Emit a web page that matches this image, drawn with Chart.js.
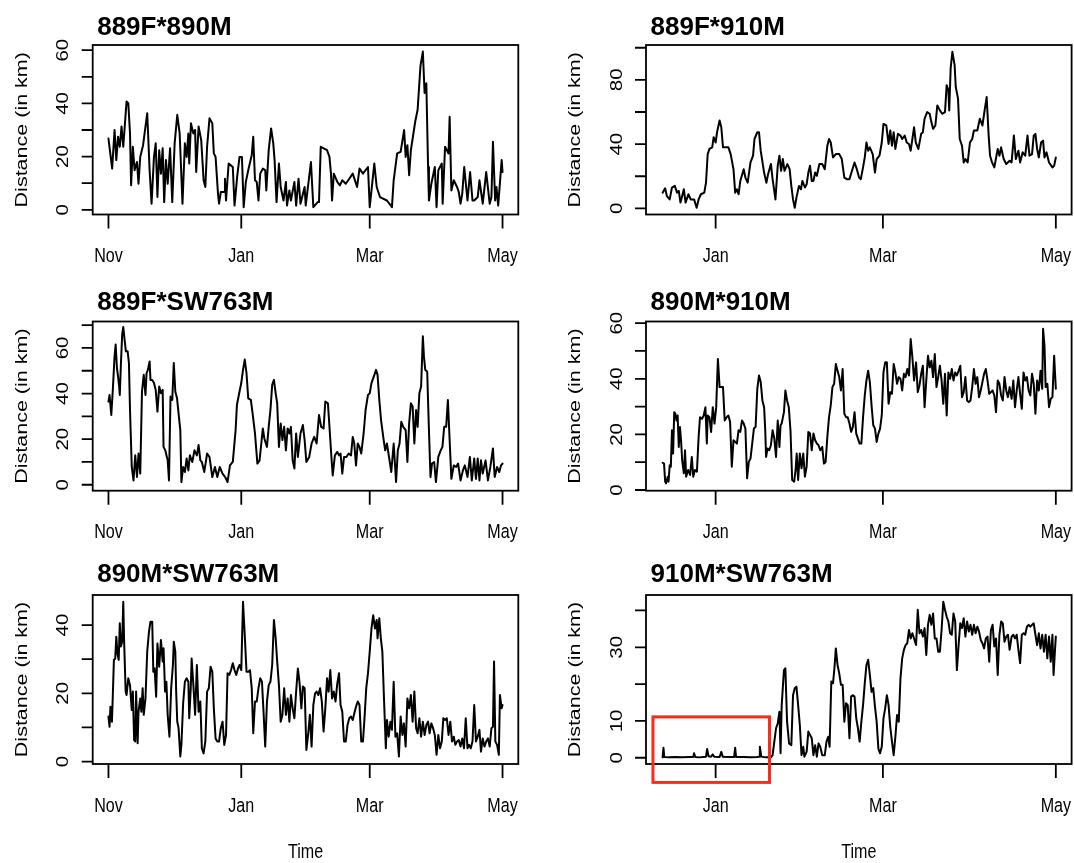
<!DOCTYPE html>
<html>
<head>
<meta charset="utf-8">
<title>Pairwise distances</title>
<script src="https://cdn.jsdelivr.net/npm/chart.js@4.4.1/dist/chart.umd.min.js"></script>
<style>
  html, body { margin: 0; padding: 0; background: #fff; }
  #wrap { position: relative; width: 1074px; height: 863px; overflow: hidden; }
  #wrap canvas { position: absolute; left: 0; top: 0; }
</style>
</head>
<body>
<div id="wrap"></div>
<script>
// x values are days since 1 Nov (1 Jan = 61, 1 Mar = 120, 1 May = 181)
const monthDays = [0, 61, 120, 181];
const monthNames = ['Nov', 'Jan', 'Mar', 'May'];

// 889F*890M
const days1 = [0,1.7,2.8,3.6,4.4,5.2,6.0,6.8,8.3,9.1,9.9,10.4,11.2,12.0,13.1,13.8,14.6,15.9,16.7,17.8,18.2,18.9,19.8,20.9,21.7,22.5,23.3,24.1,24.9,25.6,26.4,27.2,28.3,29.3,30.4,31.6,32.7,34.0,35.1,35.9,36.7,37.1,37.9,39.0,39.8,40.3,41.4,42.6,43.7,44.5,45.3,46.4,47.7,48.4,49.2,50.3,50.8,51.6,53.2,53.5,54.0,55.2,57.1,57.9,58.7,59.1,60.2,61.3,62.1,63.1,64.2,65.8,66.5,67.3,68.1,68.9,69.7,70.9,72.0,72.5,73.6,74.7,75.7,76.3,77.2,78.3,79.1,80.4,81.5,82.0,83.1,83.8,85.4,86.2,87.3,88.2,90.1,90.6,93.0,94.1,96.1,96.7,97.5,100.4,101.5,102.2,102.7,103.5,105.1,106.3,107.4,109.0,110.6,112.2,114.2,115.3,116.9,119.2,120.0,122.1,123.2,124.7,127.9,130.2,131.0,132.6,134.2,135.8,136.5,137.3,138.1,138.9,140.9,142.0,143.3,144.4,145.2,146.0,146.8,147.2,148.3,149.9,150.7,151.5,153.1,153.5,154.6,156.2,156.7,157.5,158.6,160.1,160.9,161.7,162.5,163.4,164.9,166.1,167.2,168.0,169.6,170.4,171.9,173.5,175.1,175.9,176.6,177.6,178.2,179.0,180.6,181.0];
const dist1 = [26.8,15.5,30.0,18.7,27.5,23.7,31.3,23.7,40.7,40.1,28.7,9.2,23.7,14.9,18.0,9.8,19.9,24.3,29.4,36.3,28.7,14.9,2.3,19.9,25.0,4.8,22.4,13.6,23.1,2.9,18.7,9.8,23.1,2.9,25.0,35.7,28.7,2.3,25.0,19.9,28.7,17.4,32.5,28.7,30.0,14.2,31.3,26.2,11.1,8.6,23.7,34.4,32.5,21.2,19.9,6.1,2.3,6.7,6.7,11.7,3.5,17.4,16.1,1.6,8.6,12.4,19.9,19.9,1.0,10.5,14.9,20.5,27.5,11.1,10.5,3.5,13.6,15.5,14.9,7.3,22.4,30.6,25.0,18.7,2.9,17.4,8.6,3.5,10.5,1.6,7.3,3.5,10.5,1.6,11.7,2.3,8.6,1.6,18.0,1.0,2.9,2.9,23.7,22.4,19.9,13.6,3.5,13.6,10.5,9.2,11.1,9.8,11.7,13.6,8.6,15.5,13.6,16.1,1.0,17.4,8.6,4.8,3.5,1.0,11.1,21.2,21.8,30.0,19.9,24.3,13.0,22.4,33.2,37.6,54.0,59.5,43.9,47.6,16.1,3.5,9.8,16.1,1.0,14.9,17.4,2.3,23.7,21.2,35.0,7.3,11.1,8.6,6.7,2.3,6.1,16.1,3.5,14.2,3.5,3.5,4.8,11.1,2.3,14.2,2.3,4.8,25.6,3.5,8.6,1.6,18.7,14.2];

// 889F*910M
const days2 = [42.3,43.2,43.8,44.8,45.6,46.6,47.4,48.0,48.6,49.2,49.8,50.4,51.4,52.2,53.4,54.3,55.0,55.8,57.0,57.6,58.2,58.8,59.8,60.3,61.0,61.5,62.4,63.0,63.6,65.5,66.3,67.3,67.9,68.5,69.1,69.7,70.9,71.5,72.3,73.3,74.2,74.7,75.7,76.3,76.9,78.1,78.9,79.5,80.5,81.1,82.1,82.9,83.5,84.1,84.7,85.3,86.3,87.1,87.7,88.3,88.9,89.5,90.4,91.1,91.6,92.5,93.1,93.7,94.3,94.9,95.5,96.1,96.7,97.6,98.6,99.5,100.4,101.0,101.6,102.4,103.4,104.6,105.5,106.4,107.3,108.2,109.1,110.0,110.8,111.6,112.2,113.0,113.6,114.2,114.8,115.4,116.4,117.2,117.8,118.8,119.6,120.2,121.2,122.0,122.6,123.2,123.8,124.4,125.3,126.2,126.8,127.7,128.4,129.2,129.8,131.0,131.6,132.5,133.5,134.1,134.7,135.6,136.5,137.1,137.7,138.5,139.2,140.1,140.9,141.9,142.5,143.1,143.4,143.9,144.5,145.3,145.7,146.5,147.1,147.9,148.5,149.1,149.9,150.7,151.5,152.1,153.3,154.2,155.1,155.7,156.6,157.3,157.8,158.5,159.3,160.5,161.1,161.7,162.6,163.5,164.7,165.4,166.2,166.9,167.8,168.4,169.3,170.2,171.0,171.7,172.6,173.2,173.8,174.4,175.0,175.8,176.5,177.0,177.7,178.6,179.8,180.4,181.0];
const dist2 = [9.8,12.5,7.7,5.6,13,14,9.8,10.9,3.6,7.7,11.9,3.6,8.8,5.6,5.6,0.4,5.6,8.8,9.8,16,33.8,37,38,44.3,41,47.4,54.7,50.5,38,38,33.8,24.4,9.8,11.9,8.8,17.1,24.4,19.2,16,28.6,32.8,43.2,47.4,47.4,35.9,22.3,16,21.3,27.6,18.2,5.6,26.5,32.8,23.4,30.7,23.4,27.6,24.4,14,5.6,0.4,6.7,14,11.9,17.1,13,15,22.3,26.5,17.1,17.1,22.3,20.3,27.6,27.6,24.4,39,43.2,41,31.7,33.8,33.8,30.7,19.2,18.2,18.2,23.4,28.6,24.4,19.2,18.2,25.5,31.7,41,35.9,38,33.8,22.3,30.7,32.8,41,52.6,51.6,40.1,48.5,39,47.4,37,46.4,45.3,43.2,45.3,41,40.1,35.9,50.5,41,37,46.4,47.4,55.8,59.9,58.9,53.7,49.5,51.6,64.1,61,58.9,59.9,76.7,73.5,61,87.1,97.5,89.2,75.6,68.3,43.2,39,28.6,30.7,28.6,41,43.2,48.5,48.5,55.8,51.6,58.9,69.3,45.3,32.8,28.6,25.5,37,32.8,38,30.7,27.6,29.7,28.6,45.3,30.7,35.9,28.6,34.9,32.8,45.3,32.8,33.8,45.3,46.4,37,31.7,41,42.2,31.7,34.9,28.6,25.5,26.5,31.7];

// 889F*SW763M
const days3 = [0,0.5,1.3,2.0,2.8,3.3,3.9,4.4,4.9,5.2,5.7,6.3,6.8,7.4,8.0,8.8,9.4,9.9,10.7,11.5,12.3,13.1,13.8,14.6,15.4,16.2,17.0,17.5,18.1,18.9,19.3,20.1,20.9,21.7,22.5,23.3,24.1,24.9,25.3,26.1,27.2,27.8,28.5,29.3,30.0,30.7,31.5,32.2,33.0,33.5,34.3,35.1,35.9,36.7,37.4,38.5,39.5,40.6,41.4,42.2,42.9,44.0,45.3,46.4,47.7,48.9,50.0,51.1,52.4,53.6,54.7,55.8,57.1,58.4,59.0,60.2,61.0,61.8,62.6,63.4,64.2,65.4,66.2,67.3,68.4,69.4,70.2,70.9,71.6,72.8,73.6,74.4,75.2,76.0,76.8,77.5,78.3,79.1,79.9,80.7,81.5,82.3,83.1,83.8,84.6,85.4,86.2,87.0,88.2,89.3,90.1,90.9,92.2,93.3,94.5,95.6,96.7,97.7,98.8,99.6,100.8,101.6,102.4,103.0,104.0,105.1,105.9,106.6,107.4,108.2,109.3,110.3,111.4,112.2,112.9,113.7,114.5,115.3,116.1,117.2,118.1,119.2,120.0,120.8,121.9,122.9,123.6,124.4,125.2,126.3,127.1,127.9,129.1,129.9,131.0,132.1,132.9,133.7,134.5,135.4,136.5,137.3,138.1,138.9,139.7,140.5,141.3,142.0,142.8,143.6,144.4,144.9,145.5,146.4,147.1,147.9,148.6,149.6,150.4,151.5,152.6,153.4,154.2,155.1,155.9,156.7,157.5,158.6,159.7,160.6,161.7,162.8,163.7,164.9,166.0,166.9,168.0,168.8,169.6,170.4,171.1,171.9,173.2,174.3,175.4,176.6,177.4,178.5,179.5,180.3,181.0];
const dist3 = [36.5,39.4,30.6,41.6,56.3,61.5,51.2,47.5,43.1,39.4,52.6,65.9,69.2,63.7,58.5,58.5,53.4,32.8,7.8,1.9,12.9,3.4,13.7,4.9,40.9,48.2,39.4,49.0,50.4,54.1,46.0,46.0,44.6,41.6,32.1,43.1,40.1,41.6,16.6,15.1,10.7,1.9,38.7,37.2,53.4,40.9,37.9,31.3,24.0,1.2,7.8,5.6,11.5,6.3,12.9,10.0,15.1,12.9,17.4,10.7,10.0,5.6,13.7,12.2,3.4,7.8,3.4,7.8,4.9,3.4,1.2,8.5,10.0,24.0,35.0,40.9,44.6,50.4,54.9,49.0,37.9,37.2,31.3,22.5,9.3,10.7,18.1,24.7,20.3,16.6,25.4,32.8,43.8,46.0,40.1,35.7,16.6,26.9,19.6,25.4,15.1,24.7,22.5,25.4,10.7,7.1,22.5,12.2,22.5,26.2,19.6,10.0,12.2,18.1,21.0,18.1,30.6,25.4,24.7,36.5,35.7,24.0,12.2,4.1,12.9,14.4,12.9,13.7,4.9,12.2,12.2,13.7,12.9,21.0,18.1,8.5,18.1,16.6,13.7,22.5,32.8,39.4,40.1,44.6,47.5,50.4,48.2,37.2,28.4,20.3,15.1,18.1,10.7,5.6,18.1,1.2,15.1,18.1,27.6,25.4,24.0,10.0,26.9,35.7,34.3,18.1,32.8,25.4,40.1,43.1,65.1,56.3,50.4,49.6,26.9,3.4,9.3,10.0,1.2,12.2,15.1,16.6,25.4,25.4,37.2,19.6,2.6,8.5,7.8,9.3,1.9,6.3,8.5,3.4,12.2,1.9,11.5,2.6,11.5,1.9,10.7,4.9,10.7,1.9,7.8,15.9,3.4,7.8,5.6,8.5,9.3];

// 890M*910M
const days4 = [42.3,42.8,43.2,43.5,44.1,44.4,44.8,45.2,45.6,46.0,46.4,46.8,47.2,47.6,48.0,48.4,48.8,49.2,49.8,50.2,50.6,51.3,52.0,52.6,53.1,53.7,54.4,55.0,55.5,56.2,56.8,57.4,57.9,58.2,58.8,59.4,60.0,60.6,61.2,61.8,62.4,63.0,63.6,64.2,64.9,65.5,66.1,66.7,67.3,67.9,68.5,69.1,69.7,70.3,70.9,71.5,72.1,72.7,73.3,73.9,74.5,75.1,75.7,76.3,76.9,77.5,78.1,78.5,78.8,79.3,79.9,80.5,81.1,81.7,82.3,82.9,83.5,83.9,84.3,85.1,85.6,86.2,86.8,87.4,88.0,88.7,89.2,89.6,90.1,90.7,91.3,91.9,92.5,93.1,93.7,94.3,94.9,95.5,96.1,96.7,97.3,97.9,98.6,99.2,99.8,100.4,101.0,101.6,102.2,102.8,103.4,104.0,104.6,105.2,105.8,106.4,107.0,107.6,108.2,108.8,109.4,110.0,110.6,111.2,111.8,112.4,113.0,113.6,114.2,114.8,115.4,116.0,116.6,117.2,117.8,118.4,119.0,119.6,120.2,120.8,121.4,122.0,122.6,123.2,123.8,124.4,125.0,125.6,126.2,126.8,127.4,128.0,128.6,129.2,129.8,130.4,131.0,131.7,132.3,132.9,133.5,134.1,134.7,135.3,135.9,136.5,137.1,137.7,138.3,138.9,139.5,140.1,140.7,141.3,141.9,142.5,143.1,143.7,144.3,144.9,145.5,146.1,146.7,147.3,147.9,148.5,149.1,149.7,150.3,150.9,151.5,152.1,152.7,153.3,153.9,154.5,155.1,155.7,156.3,156.9,157.5,158.1,158.7,159.3,159.9,160.5,161.1,161.7,162.3,162.9,163.5,164.1,164.7,165.4,166.0,166.6,167.2,167.8,168.4,169.0,169.6,170.2,170.8,171.4,172.0,172.6,173.2,173.8,174.4,175.0,175.6,176.2,176.5,177.0,177.4,178.0,178.6,179.2,179.8,180.4,181.0];
const dist4 = [9.8,9.5,3.0,2.4,4.8,3.0,8.9,8.4,21.5,13.1,28.0,27.4,25.0,26.8,15.5,22.7,17.9,10.7,6.0,14.3,4.8,7.2,5.4,11.9,4.8,7.2,6.6,19.1,26.2,25.6,26.8,29.8,16.7,26.8,26.2,20.9,29.8,23.9,29.8,47.1,37.0,37.0,37.0,25.0,26.2,26.8,24.5,8.4,17.9,17.3,16.7,21.5,20.9,25.0,23.9,22.1,4.2,10.1,11.3,16.7,22.1,22.7,36.4,41.2,38.8,32.2,29.8,21.5,11.9,14.9,14.3,16.1,21.5,18.5,11.9,25.0,15.5,23.3,23.9,28.0,35.8,32.2,29.8,21.5,3.6,3.0,7.2,13.1,3.6,13.1,7.8,13.1,4.8,8.4,20.9,20.3,14.3,20.3,17.9,16.7,16.1,14.3,15.5,9.5,10.1,19.1,26.2,30.4,37.0,38.2,45.3,42.9,40.6,35.8,43.5,27.4,26.2,26.2,23.9,20.9,22.7,28.0,20.3,18.5,16.7,16.7,26.2,34.0,39.4,42.9,38.8,30.4,23.3,22.1,17.3,20.3,22.1,26.8,42.3,45.9,45.9,31.0,35.2,34.6,45.3,42.3,38.2,40.6,40.0,35.8,41.8,40.6,43.5,41.2,54.3,47.7,39.4,45.9,35.2,37.6,41.8,44.7,29.8,39.4,48.3,44.1,46.5,40.6,48.9,37.0,40.6,44.7,39.4,31.0,41.8,26.8,42.3,40.0,43.5,39.4,42.3,41.2,42.9,44.7,33.4,35.2,40.6,32.2,31.6,32.2,37.0,43.5,38.2,40.6,33.4,35.8,38.8,41.8,43.5,39.4,34.6,35.2,35.8,34.0,28.0,39.4,38.2,34.0,32.2,40.6,35.8,33.4,37.0,32.8,39.4,29.8,35.8,40.6,34.6,29.2,42.3,39.4,40.6,35.8,34.0,41.8,38.2,27.4,39.4,35.8,42.9,36.4,58.0,51.9,37.0,38.2,29.8,32.8,33.4,48.3,36.4];

// 890M*SW763M
const days5 = [0,0.5,0.9,1.6,2.0,2.5,3.1,3.6,4.1,4.7,5.2,5.7,6.3,6.8,7.2,7.9,8.3,9.1,9.9,10.7,11.2,11.8,12.3,12.7,13.4,13.8,14.6,15.1,15.7,16.2,17.0,17.8,18.6,19.3,20.1,20.6,21.2,21.9,22.5,23.3,24.1,24.9,25.3,26.0,26.6,27.2,28.0,28.8,29.6,30.0,30.7,31.1,31.6,32.2,33.0,33.5,34.3,35.1,35.9,36.7,37.1,37.8,38.2,39.0,39.8,40.6,41.4,42.2,42.9,43.7,44.5,45.3,46.1,46.9,47.7,48.4,49.2,50.0,50.8,51.6,52.4,53.2,54.0,54.7,55.5,56.3,57.1,57.9,58.7,59.5,60.2,61.0,61.8,62.6,63.4,64.2,65.0,65.8,66.5,67.3,68.1,68.9,69.7,70.5,71.3,72.0,72.8,73.6,74.4,75.2,76.0,76.8,77.5,78.3,79.1,79.9,80.7,81.5,82.3,83.1,83.8,84.6,85.4,86.2,87.0,87.8,88.6,89.3,90.1,90.9,91.7,92.5,93.3,94.1,94.9,95.6,96.4,97.2,98.0,98.8,99.6,100.4,101.1,101.9,102.7,103.5,104.3,105.1,105.9,106.6,107.4,108.2,109.0,109.8,110.6,111.4,112.2,112.9,113.7,114.5,115.3,116.1,116.9,117.7,118.4,119.2,120.0,120.8,121.6,122.4,123.2,123.6,124.4,125.1,125.8,126.6,127.4,127.9,128.7,129.5,130.2,131.0,131.8,132.6,133.4,134.2,135.0,135.7,136.5,137.3,138.1,138.9,139.7,140.5,141.3,142.0,142.8,143.6,144.4,145.2,146.0,146.8,147.5,148.3,149.1,149.9,150.7,151.5,152.3,153.1,153.8,154.6,155.4,156.2,157.0,157.8,158.6,159.3,160.1,160.9,161.7,162.5,163.3,164.1,164.9,165.6,166.4,167.2,168.0,168.8,169.6,170.4,171.1,171.9,172.7,173.5,174.3,175.1,175.9,176.6,177.1,177.7,178.5,179.3,179.8,180.6,181.0];
const dist5 = [13.2,10.2,16.1,11.7,19.5,29.8,30.2,36.6,31.7,29.8,40.5,33.7,35.1,46.8,35.1,20.5,19.5,24.4,22.4,15.1,20.5,6.3,5.9,20.5,5.4,14.6,18.5,14.6,21.5,13.7,18.5,32.2,38.0,41.0,41.0,26.3,27.3,19.0,34.6,27.8,35.6,29.3,33.2,20.5,23.4,13.7,7.3,21.5,28.3,35.1,32.2,20.5,11.7,9.8,1.5,4.9,17.1,23.4,24.4,23.4,12.7,21.5,30.2,22.4,13.7,28.3,14.6,17.6,3.9,2.4,5.9,20.5,21.5,27.8,26.3,15.6,6.8,5.9,5.9,9.8,11.7,4.9,7.8,25.9,25.4,26.8,28.8,26.8,25.4,27.3,28.3,26.8,46.8,37.1,26.3,26.3,26.8,21.5,8.3,17.6,17.6,21.5,24.4,23.4,13.7,4.4,17.6,22.4,23.4,28.3,41.5,36.1,29.3,22.4,11.7,13.7,21.5,13.7,18.5,11.7,19.5,15.6,12.7,20.5,27.3,22.9,15.6,22.0,21.5,3.4,7.8,13.7,4.4,16.6,20.0,20.5,19.5,21.5,17.6,8.8,15.6,24.4,20.5,26.8,18.5,20.5,17.6,22.9,25.9,16.6,14.6,5.9,5.9,10.7,12.7,13.2,12.2,14.1,16.1,17.6,16.6,5.9,5.9,13.7,21.5,25.9,32.2,39.0,42.9,39.0,41.5,36.1,42.0,36.1,32.2,17.6,3.9,12.2,7.3,11.7,9.3,23.4,7.3,8.3,1.5,13.2,7.8,11.2,4.4,18.5,15.6,19.5,11.7,20.5,9.8,8.3,12.7,7.3,11.7,7.8,10.7,11.7,8.3,11.2,9.8,7.8,2.0,7.8,3.9,5.9,12.7,12.2,12.7,7.8,11.7,5.9,7.3,4.9,5.9,6.3,4.4,6.8,3.9,12.7,3.9,4.9,3.9,5.9,16.6,5.9,7.3,9.3,2.9,6.8,4.4,5.9,6.8,4.4,9.8,10.2,29.3,5.9,4.9,2.0,19.5,15.6,16.6];

// 910M*SW763M
const days6 = [42.3,42.6,42.9,44.4,46.8,49.2,51.6,53.1,53.4,53.8,55.2,57.6,58.0,58.5,59.4,60.0,60.5,62.4,63.0,63.5,66.1,67.5,67.9,68.2,70.9,73.3,75.7,76.3,76.6,77.1,78.7,80.5,81.1,81.7,82.3,82.9,83.5,83.9,84.3,85.1,85.6,86.2,86.9,87.7,88.3,88.9,89.5,90.1,90.7,91.3,91.9,92.3,93.1,93.7,94.3,94.9,95.5,96.1,96.7,97.3,97.9,98.6,99.5,100.1,100.7,101.2,101.8,102.4,102.9,103.4,104.0,104.6,105.2,105.8,106.4,107.0,107.6,108.2,108.8,109.4,110.0,110.6,111.2,111.8,112.4,113.0,113.6,114.2,114.8,115.4,116.0,116.6,117.2,117.8,118.4,119.0,119.6,120.2,120.8,121.4,122.0,122.6,123.2,123.8,124.4,125.0,125.6,126.2,126.8,127.4,128.0,128.6,129.2,129.8,130.4,131.0,131.7,132.3,132.9,133.5,134.1,134.7,135.3,135.9,136.5,137.1,137.7,138.3,138.9,139.5,140.1,140.7,141.3,141.9,142.5,143.1,143.7,144.3,144.9,145.5,146.1,146.7,147.3,147.9,148.5,149.1,149.7,150.3,150.9,151.5,152.1,152.7,153.3,153.9,154.5,155.1,155.7,156.3,156.9,157.5,158.1,158.7,159.3,159.9,160.5,161.1,161.7,162.3,162.9,163.5,164.1,164.7,165.4,166.0,166.6,167.2,167.8,168.4,169.0,169.6,170.2,170.8,171.4,172.0,172.6,173.2,173.8,174.4,175.0,175.6,176.2,176.8,177.4,178.0,178.6,179.2,179.8,180.2,180.7,181.0];
const dist6 = [0.1,2.7,0.2,0.1,0.2,0.1,0.2,0.2,1.2,0.2,0.1,0.3,2.4,0.4,0.3,0.9,0.3,0.2,1.6,0.3,0.2,0.2,2.7,0.2,0.2,0.1,0.2,0.3,3.0,0.3,0.1,0.1,0.7,4.4,8.0,9.3,12.5,1.2,14.3,23.8,24.3,9.8,3.9,3.4,17.0,18.9,19.3,14.3,8.9,0.7,3.0,0.3,1.6,7.1,6.2,5.3,0.7,3.4,0.3,3.9,3.0,0.7,0.7,4.4,5.7,3.0,20.7,20.2,24.3,29.7,25.2,22.9,19.8,19.8,9.8,14.8,14.3,5.3,16.6,17.0,16.6,10.7,8.0,4.4,9.8,14.3,20.2,25.2,26.6,22.5,17.9,18.9,13.9,9.8,2.5,1.2,3.0,10.7,13.4,17.0,14.3,8.4,4.4,0.7,5.7,11.6,9.8,21.6,27.0,29.3,30.6,31.1,34.7,32.4,33.8,32.4,30.6,40.2,33.8,34.7,32.9,35.2,27.9,36.1,38.8,36.1,39.2,32.4,32.4,28.8,28.8,34.7,42.4,40.2,38.3,37.0,33.8,33.4,39.2,37.0,23.8,30.6,36.5,35.2,37.9,32.9,37.0,34.3,36.1,33.4,36.1,33.8,35.6,34.3,32.0,31.1,29.7,32.4,32.9,26.1,34.7,36.1,30.2,32.4,22.5,33.4,37.0,36.5,31.5,32.9,33.4,29.3,32.9,33.4,32.4,33.4,29.3,25.7,33.4,33.8,33.4,35.6,36.1,35.6,36.1,36.5,33.4,30.6,33.8,29.7,33.4,28.8,33.4,27.0,32.9,26.1,33.4,22.5,29.3,32.9];

// page geometry (px) of the two columns and three rows of plot boxes
const W = 1074, H = 863;
const cols = [
  { left: 92.7, right: 518.3, xMin: -7.24, xMax: 188.24, ticks: [0, 61, 120, 181] },
  { left: 646, right: 1071.6, xMin: 36.44, xMax: 186.56, ticks: [61, 120, 181] }
];
const rows = [
  { top: 45, bottom: 214.5, titleY: 34.7 },
  { top: 321.5, bottom: 490.7, titleY: 310 },
  { top: 595, bottom: 764, titleY: 582 }
];

const panels = [
  { title: '889F*890M',   days: days1, dist: dist1, col: 0, row: 0, yMin: -1.76, yMax: 61.96, yTicks: [0,10,20,30,40,50,60], yLabels: [0,20,40,60] },
  { title: '889F*910M',   days: days2, dist: dist2, col: 1, row: 0, yMin: -3.8,  yMax: 101.7, yTicks: [0,20,40,60,80,100],  yLabels: [0,40,80] },
  { title: '889F*SW763M', days: days3, dist: dist3, col: 0, row: 1, yMin: -2.6,  yMax: 71.6,  yTicks: [0,10,20,30,40,50,60,70], yLabels: [0,20,40,60] },
  { title: '890M*910M',   days: days4, dist: dist4, col: 1, row: 1, yMin: -0.25, yMax: 60.6,  yTicks: [0,10,20,30,40,50,60], yLabels: [0,20,40,60] },
  { title: '890M*SW763M', days: days5, dist: dist5, col: 0, row: 2, yMin: -0.7,  yMax: 48.8,  yTicks: [0,10,20,30,40], yLabels: [0,20,40], xlab: 'Time' },
  { title: '910M*SW763M', days: days6, dist: dist6, col: 1, row: 2, yMin: -1.7,  yMax: 44.2,  yTicks: [0,10,20,30,40], yLabels: [0,10,30], xlab: 'Time',
    frame: { x0: 38.9, x1: 80.0, y0: -6.7, y1: 11.1 } }
];

const FONT = '"Liberation Sans", Arial, Helvetica, sans-serif';
const SQUEEZE = 0.785;   // glyphs are narrower across than along

function hText(ctx, str, x, y, font, sx, align) {
  ctx.save();
  ctx.translate(x, y);
  ctx.scale(sx, 1);
  ctx.font = font;
  ctx.textAlign = align;
  ctx.textBaseline = 'alphabetic';
  ctx.fillText(str, 0, 0);
  ctx.restore();
}

function vText(ctx, str, x, y, font, sy) {
  ctx.save();
  ctx.translate(x, y);
  ctx.rotate(-Math.PI / 2);
  ctx.scale(1, sy);
  ctx.font = font;
  ctx.textAlign = 'center';
  ctx.textBaseline = 'alphabetic';
  ctx.fillText(str, 0, 0);
  ctx.restore();
}

// box, ticks and labels in the style of base R graphics
const rAxes = {
  id: 'rAxes',
  afterDraw(chart, args, opts) {
    const p = opts.panel;
    const ctx = chart.ctx;
    const xs = chart.scales.x, ys = chart.scales.y;
    const a = chart.chartArea;
    const col = cols[p.col], row = rows[p.row];
    ctx.save();
    ctx.strokeStyle = '#000';
    ctx.fillStyle = '#000';
    ctx.lineWidth = 1.8;
    ctx.lineCap = 'butt';
    ctx.strokeRect(a.left, a.top, a.right - a.left, a.bottom - a.top);

    // x axis
    ctx.beginPath();
    col.ticks.forEach(d => {
      const x = xs.getPixelForValue(d);
      ctx.moveTo(x, a.bottom);
      ctx.lineTo(x, a.bottom + 14);
    });
    ctx.stroke();
    col.ticks.forEach(d => {
      const x = xs.getPixelForValue(d);
      hText(ctx, monthNames[monthDays.indexOf(d)], x, a.bottom + 47.5, '20.5px ' + FONT, SQUEEZE, 'center');
    });

    // y axis
    ctx.beginPath();
    p.yTicks.forEach(v => {
      const y = ys.getPixelForValue(v);
      ctx.moveTo(a.left - 11, y);
      ctx.lineTo(a.left, y);
    });
    ctx.stroke();
    p.yLabels.forEach(v => {
      vText(ctx, String(v), a.left - 24.5, ys.getPixelForValue(v), '20.5px ' + FONT, SQUEEZE);
    });
    vText(ctx, 'Distance (in km)', a.left - 66, (a.top + a.bottom) / 2, '21.5px ' + FONT, SQUEEZE);

    // title and x label
    hText(ctx, p.title, a.left + 4.5, row.titleY, 'bold 25px ' + FONT, 1.04, 'left');
    if (p.xlab) {
      hText(ctx, p.xlab, (a.left + a.right) / 2, 858, '20.5px ' + FONT, SQUEEZE, 'center');
    }

    // highlighted stretch
    if (p.frame) {
      const f = p.frame;
      const x0 = xs.getPixelForValue(f.x0), x1 = xs.getPixelForValue(f.x1);
      const y0 = ys.getPixelForValue(f.y1), y1 = ys.getPixelForValue(f.y0);
      ctx.strokeStyle = '#fa2b1c';
      ctx.lineWidth = 3;
      ctx.strokeRect(x0, y0, x1 - x0, y1 - y0);
    }
    ctx.restore();
  }
};

const wrap = document.getElementById('wrap');
panels.forEach(p => {
  const col = cols[p.col], row = rows[p.row];
  const canvas = document.createElement('canvas');
  canvas.width = W;
  canvas.height = H;
  canvas.style.width = W + 'px';
  canvas.style.height = H + 'px';
  wrap.appendChild(canvas);

  new Chart(canvas.getContext('2d'), {
    type: 'line',
    data: {
      datasets: [{
        data: p.days.map((d, i) => ({ x: d, y: p.dist[i] })),
        borderColor: '#000',
        borderWidth: 2,
        borderJoinStyle: 'round',
        borderCapStyle: 'round',
        pointRadius: 0,
        tension: 0,
        fill: false
      }]
    },
    options: {
      responsive: false,
      animation: false,
      devicePixelRatio: 1,
      events: [],
      layout: {
        padding: { left: col.left, right: W - col.right, top: row.top, bottom: H - row.bottom }
      },
      scales: {
        x: { type: 'linear', min: col.xMin, max: col.xMax, display: false },
        y: { type: 'linear', min: p.yMin, max: p.yMax, display: false }
      },
      plugins: {
        legend: { display: false },
        tooltip: { enabled: false },
        rAxes: { panel: p }
      }
    },
    plugins: [rAxes]
  });
});
</script>
</body>
</html>
